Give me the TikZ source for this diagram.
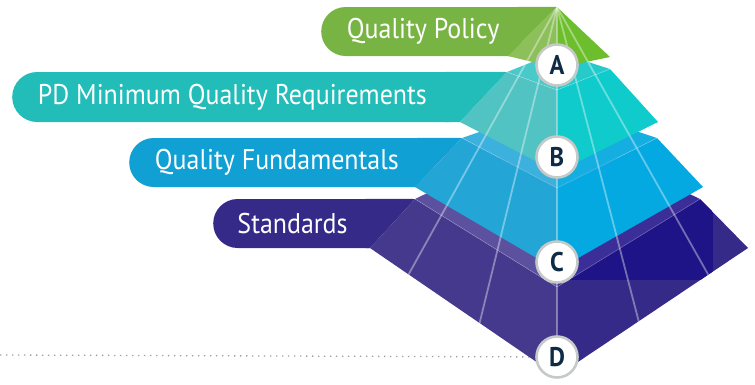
\documentclass[tikz,border=0pt]{standalone}
\usepackage{fontspec}
\setmainfont{PT Sans}[FakeStretch=0.91]
\usetikzlibrary{shapes.misc,backgrounds,positioning}
\definecolor{polgreen}{HTML}{78B444}
\definecolor{polgreenL}{HTML}{8DC05A}
\definecolor{polgreenR}{HTML}{6DBE2C}
\definecolor{reqteal}{HTML}{22BCB9}
\definecolor{reqtealT}{HTML}{49C9C9}
\definecolor{reqtealTR}{HTML}{26CACA}
\definecolor{reqtealL}{HTML}{52C3C3}
\definecolor{reqtealR}{HTML}{0FCBCB}
\definecolor{fundblue}{HTML}{11A0D4}
\definecolor{fundblueT}{HTML}{3CB1DE}
\definecolor{fundblueTR}{HTML}{15AEE0}
\definecolor{fundblueL}{HTML}{23A6D6}
\definecolor{fundblueR}{HTML}{04A9E1}
\definecolor{stdpurple}{HTML}{352A88}
\definecolor{stdpurpleT}{HTML}{5C519F}
\definecolor{stdpurpleTR}{HTML}{3B2E98}
\definecolor{stdpurpleL}{HTML}{45398D}
\definecolor{stdpurpleR}{HTML}{352A87}
\definecolor{stdpurpleD}{HTML}{1E1487}
\definecolor{badgeline}{HTML}{C5CAC8}
\definecolor{badgetext}{HTML}{0E2B46}
\definecolor{guidegray}{HTML}{9A9FA3}

\begin{document}
\begin{tikzpicture}[x=1pt, y=-1pt, every node/.style={font=\fontsize{28.5}{32}\selectfont},
    pill/.style={rounded rectangle, rounded rectangle right arc=none, minimum height=49pt, inner xsep=22pt, inner ysep=0pt, anchor=west, text=white},
    badge/.style={circle, draw=badgeline, line width=2.6pt, fill=white, minimum size=41pt, inner sep=0pt, text=badgetext, font=\fontsize{27}{30}\selectfont\bfseries},
    ray/.style={white, opacity=0.38, line width=1.8pt},
    seam/.style={white, opacity=0.3, line width=0.6pt},
    guide/.style={guidegray, line width=1.3pt, dash pattern=on 1.3pt off 4.7pt}]
	\useasboundingbox (0,0) rectangle (755,384);
	\coordinate (apex) at (557,7);
	\coordinate (guide) at (0,355);

	% Standards
	\node[pill, fill=stdpurple] (std) at (213,223.5) {Standards};
	\fill[stdpurple] ([xshift=-4pt]std.north east) -- (415,199) -- (370,248) -- ([xshift=-4pt]std.south east) -- cycle;
	\fill[stdpurpleT] (415,199) -- (557,130) -- (557,287) -- cycle;
	\fill[stdpurpleTR] (557,130) -- (700,199) -- (557,287) -- cycle;
	\fill[stdpurpleL] (415,199) -- (557,287) -- (557,376) -- (370,248) -- cycle;
	\fill[stdpurpleR] (557,287) -- (700,199) -- (748,248) -- (557,376) -- cycle;
	\begin{scope}
		\clip (557,287) -- (700,199) -- (748,248) -- (557,376) -- cycle;
		\fill[stdpurpleD] (557,150) rectangle (713,280);
	\end{scope}

	% Quality Fundamentals
	\node[pill, fill=fundblue] (fund) at (129,162.5) {Quality Fundamentals};
	\fill[fundblue] ([xshift=-4pt]fund.north east) -- (462,138) -- (415,187) -- ([xshift=-4pt]fund.south east) -- cycle;
	\fill[fundblueT] (462,138) -- (557,105) -- (557,188) -- cycle;
	\fill[fundblueTR] (557,105) -- (657,138) -- (557,188) -- cycle;
	\fill[fundblueL] (462,138) -- (557,188) -- (557,270) -- (415,187) -- cycle;
	\fill[fundblueR] (557,188) -- (657,138) -- (703,187) -- (557,270) -- cycle;

	% PD Minimum Quality Requirements
	\node[pill, fill=reqteal, minimum height=50pt] (req) at (12,97) {PD Minimum Quality Requirements};
	\fill[reqteal] ([xshift=-4pt]req.north east) -- (507,72) -- (460,122) -- ([xshift=-4pt]req.south east) -- cycle;
	\fill[reqtealT] (507,72) -- (557,52) -- (557,90) -- cycle;
	\fill[reqtealTR] (557,52) -- (610,69) -- (557,90) -- cycle;
	\fill[reqtealL] (507,72) -- (557,90) -- (557,172) -- (460,122) -- cycle;
	\fill[reqtealR] (557,90) -- (610,69) -- (658,122) -- (557,172) -- cycle;

	% Quality Policy
	\node[pill, fill=polgreen] (policy) at (321,31.5) {Quality Policy};
	\fill[polgreen] ([xshift=-4pt]policy.north east) -- (apex) -- (508,56) -- ([xshift=-4pt]policy.south east) -- cycle;
	\fill[polgreenL] (apex) -- (557,68) -- (508,56) -- cycle;
	\fill[polgreenR] (apex) -- (610,57) -- (557,68) -- cycle;

	% rays and seams
	\begin{scope}
		\clip (apex) -- (610,57) -- (587,62) -- (610,69) -- (658,122) -- (638,132) -- (657,138) -- (703,187) -- (690,194) -- (700,199) -- (748,248) -- (557,376) -- (370,248) -- (415,199) -- (426,193.5) -- (415,187) -- (462,138) -- (479,132) -- (460,122) -- (507,72) -- (532,62) -- (508,56) -- cycle;
		\foreach \s in {-0.555,-0.245,0,0.26,0.565}
			\draw[ray] (apex) -- ++(400*\s,400);
	\end{scope}
	\draw[seam] (507,72) -- (557,90) -- (610,69);
	\draw[seam] (462,138) -- (557,188) -- (657,138);
	\draw[seam] (415,199) -- (557,287) -- (700,199);

	\node[badge] (levelA) at (557,65) {A};
	\node[badge] (levelB) at (557,157) {B};
	\node[badge] (levelC) at (557,262) {C};
	\node[badge] (levelD) at (557,357) {D};

	\begin{scope}[on background layer]
		\draw[guide] (guide) -- (levelD);
	\end{scope}
\end{tikzpicture}
\end{document}
